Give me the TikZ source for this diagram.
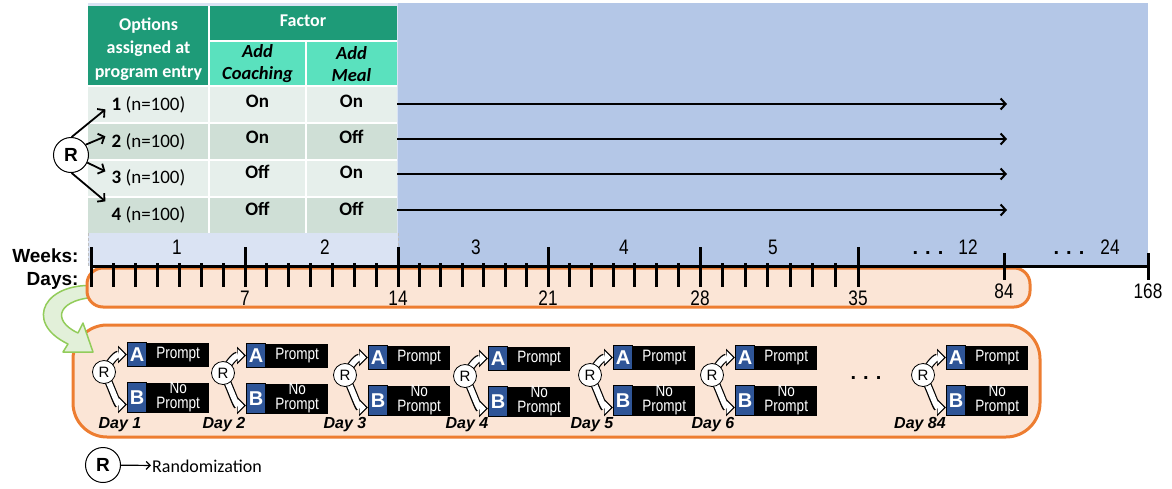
\documentclass[tikz,border=0pt]{standalone}
\usepackage{fontspec}
\setmainfont{Carlito}
\newfontfamily\arialfont{Liberation Sans}
\newfontfamily\narrowfont{Liberation Sans}[FakeStretch=0.82]
\usetikzlibrary{arrows.meta,positioning}
\definecolor{darkteal}{RGB}{30,155,120}
\definecolor{lightteal}{RGB}{90,225,190}
\definecolor{rowlight}{RGB}{230,239,235}
\definecolor{rowdark}{RGB}{207,223,214}
\definecolor{paleblue}{RGB}{218,227,243}
\definecolor{skyblue}{RGB}{180,199,231}
\definecolor{peach}{RGB}{251,229,214}
\definecolor{myorange}{RGB}{237,125,49}
\definecolor{palegreen}{RGB}{226,240,217}
\definecolor{mygreen}{RGB}{146,204,90}
\definecolor{boxblue}{RGB}{47,85,151}

\begin{document}
\begin{tikzpicture}[x=1pt, y=-1pt,
  hdr/.style={font=\fontsize{18}{23.5}\selectfont\bfseries, text=white, align=center},
  subhdr/.style={font=\fontsize{18.5}{22}\selectfont\bfseries\itshape, align=center},
  optlbl/.style={font=\fontsize{19}{20}\selectfont, inner sep=2pt, anchor=base},
  vallbl/.style={font=\fontsize{19}{20}\selectfont\bfseries, anchor=base},
  numlbl/.style={font=\narrowfont\fontsize{21}{21}\selectfont, anchor=base, inner sep=1pt},
  axislbl/.style={font=\arialfont\bfseries\fontsize{19}{19}\selectfont, anchor=base east},
  bigR/.style={circle, draw, line width=1pt, fill=white, minimum size=35pt, inner sep=0pt,
    font=\arialfont\bfseries\fontsize{19}{19}\selectfont},
  smallR/.style={circle, draw, line width=0.8pt, fill=white, minimum size=23pt, inner sep=0pt,
    font=\arialfont\fontsize{15}{15}\selectfont},
  letterbox/.style={fill=boxblue, draw=black, line width=1pt, text=white, minimum width=19pt,
    inner sep=0pt, font=\arialfont\bfseries\fontsize{20}{20}\selectfont},
  promptbox/.style={fill=black, text=white, minimum width=62pt, inner sep=0pt, align=center,
    font=\narrowfont\fontsize{16.5}{15}\selectfont},
  daylbl/.style={font=\arialfont\bfseries\itshape\fontsize{16}{16}\selectfont, anchor=base},
  peachbox/.style={fill=peach, draw=myorange, line width=3pt},
  tick/.style={line width=3pt},
  rarrow/.style={line width=1.8pt, -{Straight Barb[length=5pt,width=11pt]}},
  rowarrow/.style={line width=2pt, -{Straight Barb[length=5pt,width=11pt]}},
  outerarrow/.style={line width=8pt, -{Triangle[length=9pt,width=17pt]}},
  innerarrow/.style={line width=5.6pt, white, shorten >=2pt, -{Triangle[length=6.3pt,width=12.5pt]}}]

\useasboundingbox (0,0) rectangle (1172,488);

% blue backgrounds
\fill[paleblue] (88,3) rectangle (398,266);
\fill[skyblue] (398,3) rectangle (1148,266);
\draw[gray!50, densely dashed, line width=0.8pt] (88,233) -- (88,266) (398,233) -- (398,266);

% table header
\fill[darkteal] (88,6) rectangle (397,86);
\fill[lightteal] (209,42) rectangle (397,86);
\foreach \y/\c in {86/rowlight,123/rowdark,160/rowlight,197/rowdark}
  \fill[\c] (88,\y) rectangle (397,\y+36);
\draw[white, line width=1.5pt] (209,6) -- (209,233) (209,41) -- (397,41) (306,42) -- (306,233);
\foreach \y in {86,123,160,197}
  \draw[white, line width=1.5pt] (88,\y) -- (397,\y);

\node[hdr] (opthdr) at (148.5,49) {Options\\assigned at\\program entry};
\node[hdr, anchor=base] (factor) at (303,26) {Factor};
\node[subhdr] (coach) at (257.5,64) {Add\\Coaching};
\node[subhdr] (meal) at (351.5,64) {Add\\Meal};

% rows
\foreach \i/\b/\vb/\a/\m/\ay in {1/110/107/On/On/104, 2/147/143/On/Off/139,
                                 3/183/178/Off/On/174, 4/220/215/Off/Off/210} {
  \node[optlbl] (opt\i) at (148.5,\b) {\textbf{\i} (n=100)};
  \node[vallbl] (cv\i) at (257.5,\vb) {\a};
  \node[vallbl] (mv\i) at (351.5,\vb) {\m};
  \coordinate (tail\i) at (397,\ay);
  \coordinate (tip\i) at (1007,\ay);
  \draw[rowarrow] (tail\i) -- (tip\i);
}

% randomization at entry
\node[bigR] (R) at (71,155) {R};
\foreach \i/\ang/\dy in {1/88/-5, 2/35/5, 3/-25/6, 4/-88/13}
  \draw[rarrow] (R.\ang) -- ([xshift=-4pt,yshift=\dy pt]opt\i.west);

% daily randomization box
\draw[peachbox, rounded corners=34pt] (73,325) rectangle (1040,437);

% green arrow
\filldraw[fill=palegreen, draw=mygreen, line width=1.5pt, line join=round]
  (100,286) .. controls (45,280) and (22,322) .. (68,344) -- (63,352) -- (93,352)
  -- (83,323) -- (78,333) .. controls (50,320) and (58,298) .. (100,297) -- cycle;

% timeline
\draw[peachbox, rounded corners=16pt] (87,268) rectangle (1030,307);
\draw[line width=3pt] (91,266) -- (1150,266);
\foreach \a/\b in {91/245,245/398,398/548,548/700,700/858}
  \foreach \k in {1,...,6}
    \draw[tick] ({\a+\k*(\b-\a)/7},263) -- ({\a+\k*(\b-\a)/7},287);
\foreach \x in {91,245,398,548,700,858}
  \draw[tick] (\x,247) -- (\x,287);
\draw[tick] (1004,253) -- (1004,280);
\draw[tick] (1148,253) -- (1148,280);

\node[axislbl] (weeks) at (82,262) {Weeks:};
\node[axislbl] (days) at (82,285) {Days:};
\foreach \x/\t in {177/1,325/2,476/3,624/4,773/5,968/12,1110/24}
  \node[numlbl] at (\x,254) {\t};
\node[numlbl, font=\arialfont\bfseries\fontsize{20}{20}\selectfont] (dotsa) at (928,254) {.\hspace{7pt}.\hspace{7pt}.};
\node[numlbl, font=\arialfont\bfseries\fontsize{20}{20}\selectfont] (dotsb) at (1069,254) {.\hspace{7pt}.\hspace{7pt}.};
\foreach \x/\t in {245/7,398/14,548/21,700/28,858/35}
  \node[numlbl] at (\x,305) {\t};
\node[numlbl] at (1004,298) {84};
\node[numlbl] at (1148,298) {168};

% daily prompts
\foreach \i/\rx/\ry/\dx in {1/104/372/120, 2/223/373/224, 3/345/375/345, 4/465/376/467,
                            5/590/375/592, 6/712/375/713, 84/923/375/920} {
  \coordinate (rc\i) at (\rx,\ry);
  \node[letterbox, minimum height=24pt, anchor=north west] (a\i) at (\rx+23,\ry-30) {A};
  \node[promptbox, minimum height=24pt, right=0pt of a\i] (pa\i) {Prompt};
  \node[letterbox, minimum height=30pt, anchor=north west] (b\i) at (\rx+23,\ry+10) {B};
  \node[promptbox, minimum height=30pt, right=0pt of b\i] (pb\i) {No\\Prompt};
  \draw[outerarrow] (rc\i) .. controls +(8,-14) and +(-10,0) .. (a\i.west);
  \draw[innerarrow] (rc\i) .. controls +(8,-14) and +(-10,0) .. (a\i.west);
  \draw[outerarrow] (rc\i) .. controls +(8,16) and +(-10,0) .. ([yshift=-7pt]b\i.west);
  \draw[innerarrow] (rc\i) .. controls +(8,16) and +(-10,0) .. ([yshift=-7pt]b\i.west);
  \node[smallR] (r\i) at (rc\i) {R};
  \node[daylbl] (d\i) at (\dx,428) {Day \i};
}
\node[font=\arialfont\bfseries\fontsize{20}{20}\selectfont, anchor=base] (gap) at (866,379)
  {.\hspace{7pt}.\hspace{7pt}.};

% legend
\node[bigR] (legR) at (103,465) {R};
\node[font=\fontsize{18}{18}\selectfont, anchor=west, inner sep=1pt] (randtxt) at (151,466) {Randomization};
\draw[line width=1.2pt, -{Straight Barb[length=4pt,width=8pt]}] (legR) -- (randtxt);

\end{tikzpicture}
\end{document}
